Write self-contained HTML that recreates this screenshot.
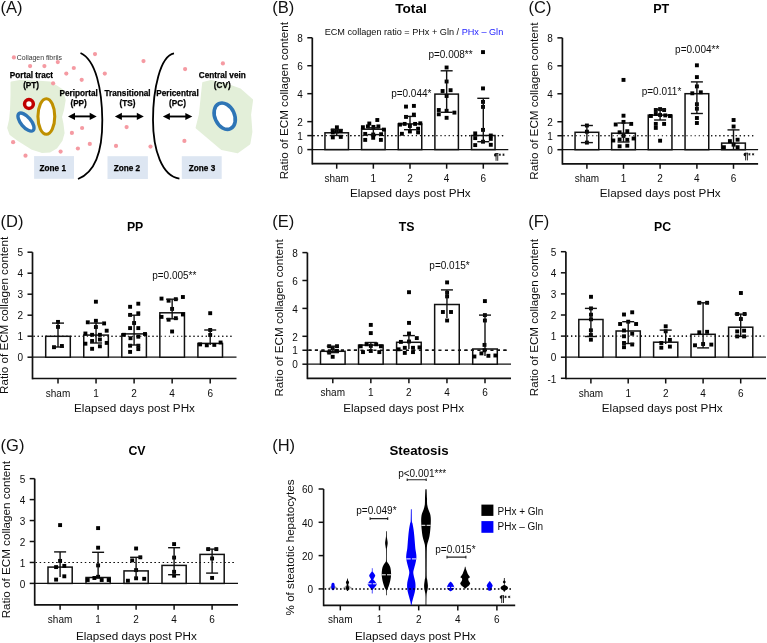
<!DOCTYPE html><html><head><meta charset="utf-8"><style>html,body{margin:0;padding:0;background:#fff;overflow:hidden;width:767px;height:643px;}svg{display:block;will-change:transform;}text{font-family:"Liberation Sans", sans-serif;}</style></head><body>
<svg width="767" height="643" viewBox="0 0 767 643">
<rect width="767" height="643" fill="#fff"/>
<line x1="312.3" y1="37.76" x2="312.3" y2="164.55" stroke="#111" stroke-width="1.7"/>
<line x1="312.3" y1="163.7" x2="508.3" y2="163.7" stroke="#111" stroke-width="1.7"/>
<line x1="307.3" y1="37.76" x2="312.3" y2="37.76" stroke="#111" stroke-width="1.5"/>
<text x="302.8" y="41.96" font-size="10" text-anchor="end" font-weight="normal" fill="#0d0d0d" >8</text>
<line x1="307.3" y1="65.72" x2="312.3" y2="65.72" stroke="#111" stroke-width="1.5"/>
<text x="302.8" y="69.92" font-size="10" text-anchor="end" font-weight="normal" fill="#0d0d0d" >6</text>
<line x1="307.3" y1="93.68" x2="312.3" y2="93.68" stroke="#111" stroke-width="1.5"/>
<text x="302.8" y="97.88" font-size="10" text-anchor="end" font-weight="normal" fill="#0d0d0d" >4</text>
<line x1="307.3" y1="121.64" x2="312.3" y2="121.64" stroke="#111" stroke-width="1.5"/>
<text x="302.8" y="125.84" font-size="10" text-anchor="end" font-weight="normal" fill="#0d0d0d" >2</text>
<line x1="307.3" y1="135.62" x2="312.3" y2="135.62" stroke="#111" stroke-width="1.5"/>
<text x="302.8" y="139.82" font-size="10" text-anchor="end" font-weight="normal" fill="#0d0d0d" >1</text>
<line x1="307.3" y1="149.6" x2="312.3" y2="149.6" stroke="#111" stroke-width="1.5"/>
<text x="302.8" y="153.8" font-size="10" text-anchor="end" font-weight="normal" fill="#0d0d0d" >0</text>
<line x1="312.3" y1="149.6" x2="508.3" y2="149.6" stroke="#111" stroke-width="1.3"/>
<line x1="313.3" y1="135.62" x2="505" y2="135.62" stroke="#111" stroke-width="1.1" stroke-dasharray="1.25 2.85"/>
<line x1="336.7" y1="163.7" x2="336.7" y2="168.7" stroke="#111" stroke-width="1.5"/>
<text x="336.7" y="181.7" font-size="10" text-anchor="middle" font-weight="normal" fill="#0d0d0d" >sham</text>
<rect x="324.95" y="132.8" width="23.5" height="16.8" fill="#fff" stroke="#111" stroke-width="1.5"/>
<line x1="373.35" y1="163.7" x2="373.35" y2="168.7" stroke="#111" stroke-width="1.5"/>
<text x="373.35" y="181.7" font-size="10" text-anchor="middle" font-weight="normal" fill="#0d0d0d" >1</text>
<rect x="361.6" y="129.2" width="23.5" height="20.4" fill="#fff" stroke="#111" stroke-width="1.5"/>
<line x1="410" y1="163.7" x2="410" y2="168.7" stroke="#111" stroke-width="1.5"/>
<text x="410" y="181.7" font-size="10" text-anchor="middle" font-weight="normal" fill="#0d0d0d" >2</text>
<rect x="398.25" y="123.9" width="23.5" height="25.7" fill="#fff" stroke="#111" stroke-width="1.5"/>
<line x1="446.65" y1="163.7" x2="446.65" y2="168.7" stroke="#111" stroke-width="1.5"/>
<text x="446.65" y="181.7" font-size="10" text-anchor="middle" font-weight="normal" fill="#0d0d0d" >4</text>
<rect x="434.9" y="94.1" width="23.5" height="55.5" fill="#fff" stroke="#111" stroke-width="1.5"/>
<line x1="483.3" y1="163.7" x2="483.3" y2="168.7" stroke="#111" stroke-width="1.5"/>
<text x="483.3" y="181.7" font-size="10" text-anchor="middle" font-weight="normal" fill="#0d0d0d" >6</text>
<rect x="471.55" y="135.5" width="23.5" height="14.1" fill="#fff" stroke="#111" stroke-width="1.5"/>
<line x1="313.3" y1="135.62" x2="505" y2="135.62" stroke="#111" stroke-width="1.1" stroke-dasharray="1.25 2.85"/>
<rect x="334.95" y="125.35" width="3.9" height="3.9" fill="#000"/>
<rect x="330.85" y="128.55" width="3.9" height="3.9" fill="#000"/>
<rect x="338.85" y="129.05" width="3.9" height="3.9" fill="#000"/>
<rect x="330.85" y="130.45" width="3.9" height="3.9" fill="#000"/>
<rect x="330.85" y="135.45" width="3.9" height="3.9" fill="#000"/>
<rect x="338.85" y="134.95" width="3.9" height="3.9" fill="#000"/>
<rect x="334.95" y="129.45" width="3.9" height="3.9" fill="#000"/>
<line x1="336.7" y1="129.5" x2="336.7" y2="135.5" stroke="#111" stroke-width="1.4"/>
<line x1="330.7" y1="129.5" x2="342.7" y2="129.5" stroke="#111" stroke-width="1.4"/>
<line x1="330.7" y1="135.5" x2="342.7" y2="135.5" stroke="#111" stroke-width="1.4"/>
<rect x="375.35" y="118.05" width="3.9" height="3.9" fill="#000"/>
<rect x="367.35" y="121.55" width="3.9" height="3.9" fill="#000"/>
<rect x="360.95" y="125.25" width="3.9" height="3.9" fill="#000"/>
<rect x="365.95" y="124.45" width="3.9" height="3.9" fill="#000"/>
<rect x="371.45" y="124.95" width="3.9" height="3.9" fill="#000"/>
<rect x="376.45" y="124.45" width="3.9" height="3.9" fill="#000"/>
<rect x="381.95" y="127.65" width="3.9" height="3.9" fill="#000"/>
<rect x="363.25" y="131.95" width="3.9" height="3.9" fill="#000"/>
<rect x="371.25" y="132.55" width="3.9" height="3.9" fill="#000"/>
<rect x="379.15" y="132.25" width="3.9" height="3.9" fill="#000"/>
<rect x="371.25" y="135.85" width="3.9" height="3.9" fill="#000"/>
<rect x="363.25" y="137.95" width="3.9" height="3.9" fill="#000"/>
<rect x="378.95" y="137.95" width="3.9" height="3.9" fill="#000"/>
<line x1="373.35" y1="127.8" x2="373.35" y2="134.6" stroke="#111" stroke-width="1.4"/>
<line x1="367.35" y1="127.8" x2="379.35" y2="127.8" stroke="#111" stroke-width="1.4"/>
<line x1="367.35" y1="134.6" x2="379.35" y2="134.6" stroke="#111" stroke-width="1.4"/>
<rect x="404.05" y="104.65" width="3.9" height="3.9" fill="#000"/>
<rect x="411.95" y="103.95" width="3.9" height="3.9" fill="#000"/>
<rect x="404.05" y="114.95" width="3.9" height="3.9" fill="#000"/>
<rect x="411.95" y="112.65" width="3.9" height="3.9" fill="#000"/>
<rect x="398.05" y="122.65" width="3.9" height="3.9" fill="#000"/>
<rect x="402.65" y="121.95" width="3.9" height="3.9" fill="#000"/>
<rect x="407.95" y="124.05" width="3.9" height="3.9" fill="#000"/>
<rect x="413.15" y="121.95" width="3.9" height="3.9" fill="#000"/>
<rect x="418.35" y="121.35" width="3.9" height="3.9" fill="#000"/>
<rect x="407.95" y="129.55" width="3.9" height="3.9" fill="#000"/>
<rect x="416.15" y="126.75" width="3.9" height="3.9" fill="#000"/>
<rect x="416.15" y="130.45" width="3.9" height="3.9" fill="#000"/>
<rect x="399.95" y="131.85" width="3.9" height="3.9" fill="#000"/>
<line x1="410" y1="116.4" x2="410" y2="129.7" stroke="#111" stroke-width="1.4"/>
<line x1="404" y1="116.4" x2="416" y2="116.4" stroke="#111" stroke-width="1.4"/>
<line x1="404" y1="129.7" x2="416" y2="129.7" stroke="#111" stroke-width="1.4"/>
<rect x="444.65" y="65.55" width="3.9" height="3.9" fill="#000"/>
<rect x="444.65" y="79.55" width="3.9" height="3.9" fill="#000"/>
<rect x="440.65" y="89.05" width="3.9" height="3.9" fill="#000"/>
<rect x="448.65" y="88.25" width="3.9" height="3.9" fill="#000"/>
<rect x="444.65" y="94.05" width="3.9" height="3.9" fill="#000"/>
<rect x="436.85" y="108.05" width="3.9" height="3.9" fill="#000"/>
<rect x="436.85" y="112.35" width="3.9" height="3.9" fill="#000"/>
<rect x="444.65" y="108.85" width="3.9" height="3.9" fill="#000"/>
<rect x="452.45" y="110.65" width="3.9" height="3.9" fill="#000"/>
<rect x="444.65" y="115.85" width="3.9" height="3.9" fill="#000"/>
<line x1="446.65" y1="70.8" x2="446.65" y2="112.3" stroke="#111" stroke-width="1.4"/>
<line x1="440.65" y1="70.8" x2="452.65" y2="70.8" stroke="#111" stroke-width="1.4"/>
<line x1="440.65" y1="112.3" x2="452.65" y2="112.3" stroke="#111" stroke-width="1.4"/>
<rect x="481.05" y="50.15" width="3.9" height="3.9" fill="#000"/>
<rect x="481.05" y="86.45" width="3.9" height="3.9" fill="#000"/>
<rect x="481.05" y="99.95" width="3.9" height="3.9" fill="#000"/>
<rect x="481.05" y="104.95" width="3.9" height="3.9" fill="#000"/>
<rect x="481.05" y="127.95" width="3.9" height="3.9" fill="#000"/>
<rect x="473.25" y="131.45" width="3.9" height="3.9" fill="#000"/>
<rect x="473.25" y="136.15" width="3.9" height="3.9" fill="#000"/>
<rect x="481.05" y="139.75" width="3.9" height="3.9" fill="#000"/>
<rect x="488.85" y="133.55" width="3.9" height="3.9" fill="#000"/>
<rect x="488.85" y="136.95" width="3.9" height="3.9" fill="#000"/>
<rect x="473.25" y="143.15" width="3.9" height="3.9" fill="#000"/>
<rect x="488.85" y="142.85" width="3.9" height="3.9" fill="#000"/>
<line x1="483.3" y1="98.3" x2="483.3" y2="141.7" stroke="#111" stroke-width="1.4"/>
<line x1="477.3" y1="98.3" x2="489.3" y2="98.3" stroke="#111" stroke-width="1.4"/>
<line x1="477.3" y1="141.7" x2="489.3" y2="141.7" stroke="#111" stroke-width="1.4"/>
<text transform="translate(288,100.73) rotate(-90)" font-size="11.65" text-anchor="middle" fill="#0d0d0d">Ratio of ECM collagen content</text>
<text x="410.3" y="196.7" font-size="11.7" text-anchor="middle" font-weight="normal" fill="#0d0d0d" >Elapsed days post PHx</text>
<text x="411" y="12.9" font-size="13.6" text-anchor="middle" font-weight="bold" fill="#000" >Total</text>
<line x1="562.4" y1="37.86" x2="562.4" y2="164.65" stroke="#111" stroke-width="1.7"/>
<line x1="562.4" y1="163.8" x2="758.1" y2="163.8" stroke="#111" stroke-width="1.7"/>
<line x1="557.4" y1="37.86" x2="562.4" y2="37.86" stroke="#111" stroke-width="1.5"/>
<text x="552.9" y="42.06" font-size="10" text-anchor="end" font-weight="normal" fill="#0d0d0d" >8</text>
<line x1="557.4" y1="65.82" x2="562.4" y2="65.82" stroke="#111" stroke-width="1.5"/>
<text x="552.9" y="70.02" font-size="10" text-anchor="end" font-weight="normal" fill="#0d0d0d" >6</text>
<line x1="557.4" y1="93.78" x2="562.4" y2="93.78" stroke="#111" stroke-width="1.5"/>
<text x="552.9" y="97.98" font-size="10" text-anchor="end" font-weight="normal" fill="#0d0d0d" >4</text>
<line x1="557.4" y1="121.74" x2="562.4" y2="121.74" stroke="#111" stroke-width="1.5"/>
<text x="552.9" y="125.94" font-size="10" text-anchor="end" font-weight="normal" fill="#0d0d0d" >2</text>
<line x1="557.4" y1="135.72" x2="562.4" y2="135.72" stroke="#111" stroke-width="1.5"/>
<text x="552.9" y="139.92" font-size="10" text-anchor="end" font-weight="normal" fill="#0d0d0d" >1</text>
<line x1="557.4" y1="149.7" x2="562.4" y2="149.7" stroke="#111" stroke-width="1.5"/>
<text x="552.9" y="153.9" font-size="10" text-anchor="end" font-weight="normal" fill="#0d0d0d" >0</text>
<line x1="562.4" y1="149.7" x2="758.1" y2="149.7" stroke="#111" stroke-width="1.3"/>
<line x1="563.4" y1="135.72" x2="755.5" y2="135.72" stroke="#111" stroke-width="1.1" stroke-dasharray="1.25 2.85"/>
<line x1="586.9" y1="163.8" x2="586.9" y2="168.8" stroke="#111" stroke-width="1.5"/>
<text x="586.9" y="181.8" font-size="10" text-anchor="middle" font-weight="normal" fill="#0d0d0d" >sham</text>
<rect x="575.05" y="132.3" width="23.7" height="17.4" fill="#fff" stroke="#111" stroke-width="1.5"/>
<line x1="623.5" y1="163.8" x2="623.5" y2="168.8" stroke="#111" stroke-width="1.5"/>
<text x="623.5" y="181.8" font-size="10" text-anchor="middle" font-weight="normal" fill="#0d0d0d" >1</text>
<rect x="611.65" y="133.2" width="23.7" height="16.5" fill="#fff" stroke="#111" stroke-width="1.5"/>
<line x1="660.1" y1="163.8" x2="660.1" y2="168.8" stroke="#111" stroke-width="1.5"/>
<text x="660.1" y="181.8" font-size="10" text-anchor="middle" font-weight="normal" fill="#0d0d0d" >2</text>
<rect x="648.25" y="115.1" width="23.7" height="34.6" fill="#fff" stroke="#111" stroke-width="1.5"/>
<line x1="696.9" y1="163.8" x2="696.9" y2="168.8" stroke="#111" stroke-width="1.5"/>
<text x="696.9" y="181.8" font-size="10" text-anchor="middle" font-weight="normal" fill="#0d0d0d" >4</text>
<rect x="685.05" y="93.7" width="23.7" height="56" fill="#fff" stroke="#111" stroke-width="1.5"/>
<line x1="733.5" y1="163.8" x2="733.5" y2="168.8" stroke="#111" stroke-width="1.5"/>
<text x="733.5" y="181.8" font-size="10" text-anchor="middle" font-weight="normal" fill="#0d0d0d" >6</text>
<rect x="721.65" y="143.1" width="23.7" height="6.6" fill="#fff" stroke="#111" stroke-width="1.5"/>
<line x1="563.4" y1="135.72" x2="755.5" y2="135.72" stroke="#111" stroke-width="1.1" stroke-dasharray="1.25 2.85"/>
<rect x="584.95" y="123.55" width="3.9" height="3.9" fill="#000"/>
<rect x="584.95" y="129.75" width="3.9" height="3.9" fill="#000"/>
<rect x="584.95" y="140.65" width="3.9" height="3.9" fill="#000"/>
<line x1="586.9" y1="125.5" x2="586.9" y2="142.6" stroke="#111" stroke-width="1.4"/>
<line x1="580.9" y1="125.5" x2="592.9" y2="125.5" stroke="#111" stroke-width="1.4"/>
<line x1="580.9" y1="142.6" x2="592.9" y2="142.6" stroke="#111" stroke-width="1.4"/>
<rect x="621.55" y="77.95" width="3.9" height="3.9" fill="#000"/>
<rect x="621.55" y="113.75" width="3.9" height="3.9" fill="#000"/>
<rect x="613.75" y="122.55" width="3.9" height="3.9" fill="#000"/>
<rect x="621.55" y="119.95" width="3.9" height="3.9" fill="#000"/>
<rect x="629.25" y="121.95" width="3.9" height="3.9" fill="#000"/>
<rect x="617.65" y="130.35" width="3.9" height="3.9" fill="#000"/>
<rect x="625.35" y="129.25" width="3.9" height="3.9" fill="#000"/>
<rect x="611.35" y="138.55" width="3.9" height="3.9" fill="#000"/>
<rect x="617.65" y="137.55" width="3.9" height="3.9" fill="#000"/>
<rect x="625.35" y="137.85" width="3.9" height="3.9" fill="#000"/>
<rect x="631.65" y="136.55" width="3.9" height="3.9" fill="#000"/>
<rect x="617.65" y="144.35" width="3.9" height="3.9" fill="#000"/>
<rect x="625.35" y="143.75" width="3.9" height="3.9" fill="#000"/>
<rect x="621.55" y="133.95" width="3.9" height="3.9" fill="#000"/>
<line x1="623.5" y1="123" x2="623.5" y2="142" stroke="#111" stroke-width="1.4"/>
<line x1="617.5" y1="123" x2="629.5" y2="123" stroke="#111" stroke-width="1.4"/>
<line x1="617.5" y1="142" x2="629.5" y2="142" stroke="#111" stroke-width="1.4"/>
<rect x="658.15" y="107.15" width="3.9" height="3.9" fill="#000"/>
<rect x="653.85" y="108.05" width="3.9" height="3.9" fill="#000"/>
<rect x="662.15" y="108.05" width="3.9" height="3.9" fill="#000"/>
<rect x="648.95" y="114.05" width="3.9" height="3.9" fill="#000"/>
<rect x="653.85" y="112.05" width="3.9" height="3.9" fill="#000"/>
<rect x="658.15" y="113.05" width="3.9" height="3.9" fill="#000"/>
<rect x="663.35" y="113.45" width="3.9" height="3.9" fill="#000"/>
<rect x="668.05" y="114.05" width="3.9" height="3.9" fill="#000"/>
<rect x="653.85" y="121.95" width="3.9" height="3.9" fill="#000"/>
<rect x="662.15" y="121.95" width="3.9" height="3.9" fill="#000"/>
<rect x="653.85" y="125.95" width="3.9" height="3.9" fill="#000"/>
<rect x="658.15" y="138.75" width="3.9" height="3.9" fill="#000"/>
<line x1="660.1" y1="109.5" x2="660.1" y2="120" stroke="#111" stroke-width="1.4"/>
<line x1="654.1" y1="109.5" x2="666.1" y2="109.5" stroke="#111" stroke-width="1.4"/>
<line x1="654.1" y1="120" x2="666.1" y2="120" stroke="#111" stroke-width="1.4"/>
<rect x="694.95" y="63.35" width="3.9" height="3.9" fill="#000"/>
<rect x="694.95" y="75.15" width="3.9" height="3.9" fill="#000"/>
<rect x="694.95" y="84.45" width="3.9" height="3.9" fill="#000"/>
<rect x="690.35" y="91.35" width="3.9" height="3.9" fill="#000"/>
<rect x="698.85" y="90.35" width="3.9" height="3.9" fill="#000"/>
<rect x="694.95" y="102.25" width="3.9" height="3.9" fill="#000"/>
<rect x="694.95" y="106.75" width="3.9" height="3.9" fill="#000"/>
<rect x="694.95" y="116.05" width="3.9" height="3.9" fill="#000"/>
<rect x="694.95" y="121.05" width="3.9" height="3.9" fill="#000"/>
<line x1="696.9" y1="81.9" x2="696.9" y2="113.5" stroke="#111" stroke-width="1.4"/>
<line x1="690.9" y1="81.9" x2="702.9" y2="81.9" stroke="#111" stroke-width="1.4"/>
<line x1="690.9" y1="113.5" x2="702.9" y2="113.5" stroke="#111" stroke-width="1.4"/>
<rect x="731.65" y="118.05" width="3.9" height="3.9" fill="#000"/>
<rect x="731.65" y="124.55" width="3.9" height="3.9" fill="#000"/>
<rect x="735.65" y="137.75" width="3.9" height="3.9" fill="#000"/>
<rect x="727.95" y="139.15" width="3.9" height="3.9" fill="#000"/>
<rect x="731.65" y="142.75" width="3.9" height="3.9" fill="#000"/>
<rect x="721.95" y="145.25" width="3.9" height="3.9" fill="#000"/>
<rect x="735.65" y="145.25" width="3.9" height="3.9" fill="#000"/>
<line x1="733.5" y1="129.9" x2="733.5" y2="149.7" stroke="#111" stroke-width="1.4"/>
<line x1="727.5" y1="129.9" x2="739.5" y2="129.9" stroke="#111" stroke-width="1.4"/>
<text transform="translate(537.6,101.13) rotate(-90)" font-size="11.65" text-anchor="middle" fill="#0d0d0d">Ratio of ECM collagen content</text>
<text x="660.25" y="196.8" font-size="11.7" text-anchor="middle" font-weight="normal" fill="#0d0d0d" >Elapsed days post PHx</text>
<text x="661.2" y="13" font-size="12.6" text-anchor="middle" font-weight="bold" fill="#000" >PT</text>
<line x1="32.5" y1="252.2" x2="32.5" y2="379.35" stroke="#111" stroke-width="1.7"/>
<line x1="32.5" y1="378.5" x2="236.5" y2="378.5" stroke="#111" stroke-width="1.7"/>
<line x1="27.5" y1="252.2" x2="32.5" y2="252.2" stroke="#111" stroke-width="1.5"/>
<text x="23" y="256.4" font-size="10" text-anchor="end" font-weight="normal" fill="#0d0d0d" >5</text>
<line x1="27.5" y1="273.2" x2="32.5" y2="273.2" stroke="#111" stroke-width="1.5"/>
<text x="23" y="277.4" font-size="10" text-anchor="end" font-weight="normal" fill="#0d0d0d" >4</text>
<line x1="27.5" y1="294.2" x2="32.5" y2="294.2" stroke="#111" stroke-width="1.5"/>
<text x="23" y="298.4" font-size="10" text-anchor="end" font-weight="normal" fill="#0d0d0d" >3</text>
<line x1="27.5" y1="315.2" x2="32.5" y2="315.2" stroke="#111" stroke-width="1.5"/>
<text x="23" y="319.4" font-size="10" text-anchor="end" font-weight="normal" fill="#0d0d0d" >2</text>
<line x1="27.5" y1="336.2" x2="32.5" y2="336.2" stroke="#111" stroke-width="1.5"/>
<text x="23" y="340.4" font-size="10" text-anchor="end" font-weight="normal" fill="#0d0d0d" >1</text>
<line x1="27.5" y1="357.2" x2="32.5" y2="357.2" stroke="#111" stroke-width="1.5"/>
<text x="23" y="361.4" font-size="10" text-anchor="end" font-weight="normal" fill="#0d0d0d" >0</text>
<line x1="32.5" y1="357.2" x2="236.5" y2="357.2" stroke="#111" stroke-width="1.3"/>
<line x1="33.5" y1="336.2" x2="233.3" y2="336.2" stroke="#111" stroke-width="1.1" stroke-dasharray="1.25 2.85"/>
<line x1="58" y1="378.5" x2="58" y2="383.5" stroke="#111" stroke-width="1.5"/>
<text x="58" y="396.5" font-size="10" text-anchor="middle" font-weight="normal" fill="#0d0d0d" >sham</text>
<rect x="45.7" y="336.3" width="24.6" height="20.9" fill="#fff" stroke="#111" stroke-width="1.5"/>
<line x1="96.05" y1="378.5" x2="96.05" y2="383.5" stroke="#111" stroke-width="1.5"/>
<text x="96.05" y="396.5" font-size="10" text-anchor="middle" font-weight="normal" fill="#0d0d0d" >1</text>
<rect x="83.75" y="335.1" width="24.6" height="22.1" fill="#fff" stroke="#111" stroke-width="1.5"/>
<line x1="134.1" y1="378.5" x2="134.1" y2="383.5" stroke="#111" stroke-width="1.5"/>
<text x="134.1" y="396.5" font-size="10" text-anchor="middle" font-weight="normal" fill="#0d0d0d" >2</text>
<rect x="121.8" y="333.9" width="24.6" height="23.3" fill="#fff" stroke="#111" stroke-width="1.5"/>
<line x1="172.15" y1="378.5" x2="172.15" y2="383.5" stroke="#111" stroke-width="1.5"/>
<text x="172.15" y="396.5" font-size="10" text-anchor="middle" font-weight="normal" fill="#0d0d0d" >4</text>
<rect x="159.85" y="312.8" width="24.6" height="44.4" fill="#fff" stroke="#111" stroke-width="1.5"/>
<line x1="210.2" y1="378.5" x2="210.2" y2="383.5" stroke="#111" stroke-width="1.5"/>
<text x="210.2" y="396.5" font-size="10" text-anchor="middle" font-weight="normal" fill="#0d0d0d" >6</text>
<rect x="197.9" y="343.4" width="24.6" height="13.8" fill="#fff" stroke="#111" stroke-width="1.5"/>
<line x1="33.5" y1="336.2" x2="233.3" y2="336.2" stroke="#111" stroke-width="1.1" stroke-dasharray="1.25 2.85"/>
<rect x="56.05" y="319.95" width="3.9" height="3.9" fill="#000"/>
<rect x="56.05" y="324.95" width="3.9" height="3.9" fill="#000"/>
<rect x="52.05" y="345.25" width="3.9" height="3.9" fill="#000"/>
<rect x="59.95" y="344.05" width="3.9" height="3.9" fill="#000"/>
<line x1="58" y1="323.1" x2="58" y2="347" stroke="#111" stroke-width="1.4"/>
<line x1="52" y1="323.1" x2="64" y2="323.1" stroke="#111" stroke-width="1.4"/>
<line x1="52" y1="347" x2="64" y2="347" stroke="#111" stroke-width="1.4"/>
<rect x="93.95" y="299.75" width="3.9" height="3.9" fill="#000"/>
<rect x="85.85" y="320.35" width="3.9" height="3.9" fill="#000"/>
<rect x="93.95" y="318.85" width="3.9" height="3.9" fill="#000"/>
<rect x="102.15" y="321.45" width="3.9" height="3.9" fill="#000"/>
<rect x="93.95" y="325.05" width="3.9" height="3.9" fill="#000"/>
<rect x="83.45" y="331.55" width="3.9" height="3.9" fill="#000"/>
<rect x="90.15" y="332.85" width="3.9" height="3.9" fill="#000"/>
<rect x="97.95" y="332.85" width="3.9" height="3.9" fill="#000"/>
<rect x="104.75" y="328.75" width="3.9" height="3.9" fill="#000"/>
<rect x="83.45" y="341.75" width="3.9" height="3.9" fill="#000"/>
<rect x="90.15" y="339.05" width="3.9" height="3.9" fill="#000"/>
<rect x="97.95" y="337.55" width="3.9" height="3.9" fill="#000"/>
<rect x="104.75" y="340.95" width="3.9" height="3.9" fill="#000"/>
<rect x="90.15" y="346.85" width="3.9" height="3.9" fill="#000"/>
<rect x="97.95" y="344.35" width="3.9" height="3.9" fill="#000"/>
<line x1="96.05" y1="323.1" x2="96.05" y2="343" stroke="#111" stroke-width="1.4"/>
<line x1="90.05" y1="323.1" x2="102.05" y2="323.1" stroke="#111" stroke-width="1.4"/>
<line x1="90.05" y1="343" x2="102.05" y2="343" stroke="#111" stroke-width="1.4"/>
<rect x="128.15" y="304.85" width="3.9" height="3.9" fill="#000"/>
<rect x="136.35" y="301.75" width="3.9" height="3.9" fill="#000"/>
<rect x="128.15" y="312.95" width="3.9" height="3.9" fill="#000"/>
<rect x="136.35" y="311.35" width="3.9" height="3.9" fill="#000"/>
<rect x="132.15" y="321.05" width="3.9" height="3.9" fill="#000"/>
<rect x="128.15" y="326.15" width="3.9" height="3.9" fill="#000"/>
<rect x="136.35" y="326.15" width="3.9" height="3.9" fill="#000"/>
<rect x="121.95" y="332.85" width="3.9" height="3.9" fill="#000"/>
<rect x="143.05" y="332.05" width="3.9" height="3.9" fill="#000"/>
<rect x="128.55" y="336.25" width="3.9" height="3.9" fill="#000"/>
<rect x="136.35" y="334.75" width="3.9" height="3.9" fill="#000"/>
<rect x="128.15" y="343.75" width="3.9" height="3.9" fill="#000"/>
<rect x="136.35" y="343.75" width="3.9" height="3.9" fill="#000"/>
<rect x="128.15" y="349.95" width="3.9" height="3.9" fill="#000"/>
<rect x="136.35" y="347.15" width="3.9" height="3.9" fill="#000"/>
<line x1="134.1" y1="315.2" x2="134.1" y2="345" stroke="#111" stroke-width="1.4"/>
<line x1="128.1" y1="315.2" x2="140.1" y2="315.2" stroke="#111" stroke-width="1.4"/>
<line x1="128.1" y1="345" x2="140.1" y2="345" stroke="#111" stroke-width="1.4"/>
<rect x="159.55" y="296.65" width="3.9" height="3.9" fill="#000"/>
<rect x="166.65" y="298.75" width="3.9" height="3.9" fill="#000"/>
<rect x="173.85" y="297.25" width="3.9" height="3.9" fill="#000"/>
<rect x="180.95" y="295.05" width="3.9" height="3.9" fill="#000"/>
<rect x="170.15" y="306.95" width="3.9" height="3.9" fill="#000"/>
<rect x="159.55" y="314.95" width="3.9" height="3.9" fill="#000"/>
<rect x="166.65" y="317.75" width="3.9" height="3.9" fill="#000"/>
<rect x="173.85" y="316.25" width="3.9" height="3.9" fill="#000"/>
<rect x="180.95" y="312.55" width="3.9" height="3.9" fill="#000"/>
<rect x="170.15" y="329.55" width="3.9" height="3.9" fill="#000"/>
<line x1="172.15" y1="299.2" x2="172.15" y2="318.8" stroke="#111" stroke-width="1.4"/>
<line x1="166.15" y1="299.2" x2="178.15" y2="299.2" stroke="#111" stroke-width="1.4"/>
<line x1="166.15" y1="318.8" x2="178.15" y2="318.8" stroke="#111" stroke-width="1.4"/>
<rect x="208.25" y="311.25" width="3.9" height="3.9" fill="#000"/>
<rect x="208.25" y="328.05" width="3.9" height="3.9" fill="#000"/>
<rect x="208.25" y="333.05" width="3.9" height="3.9" fill="#000"/>
<rect x="198.15" y="342.45" width="3.9" height="3.9" fill="#000"/>
<rect x="204.85" y="343.35" width="3.9" height="3.9" fill="#000"/>
<rect x="212.35" y="342.95" width="3.9" height="3.9" fill="#000"/>
<rect x="218.65" y="340.55" width="3.9" height="3.9" fill="#000"/>
<line x1="210.2" y1="330" x2="210.2" y2="345" stroke="#111" stroke-width="1.4"/>
<line x1="204.2" y1="330" x2="216.2" y2="330" stroke="#111" stroke-width="1.4"/>
<text transform="translate(8.2,315.35) rotate(-90)" font-size="11.65" text-anchor="middle" fill="#0d0d0d">Ratio of ECM collagen content</text>
<text x="134.5" y="411.5" font-size="11.7" text-anchor="middle" font-weight="normal" fill="#0d0d0d" >Elapsed days post PHx</text>
<text x="135.1" y="230.9" font-size="12.3" text-anchor="middle" font-weight="bold" fill="#000" >PP</text>
<line x1="307.4" y1="252.6" x2="307.4" y2="379.15" stroke="#111" stroke-width="1.7"/>
<line x1="307.4" y1="378.3" x2="511" y2="378.3" stroke="#111" stroke-width="1.7"/>
<line x1="302.4" y1="252.6" x2="307.4" y2="252.6" stroke="#111" stroke-width="1.5"/>
<text x="297.9" y="256.8" font-size="10" text-anchor="end" font-weight="normal" fill="#0d0d0d" >8</text>
<line x1="302.4" y1="280.5" x2="307.4" y2="280.5" stroke="#111" stroke-width="1.5"/>
<text x="297.9" y="284.7" font-size="10" text-anchor="end" font-weight="normal" fill="#0d0d0d" >6</text>
<line x1="302.4" y1="308.4" x2="307.4" y2="308.4" stroke="#111" stroke-width="1.5"/>
<text x="297.9" y="312.6" font-size="10" text-anchor="end" font-weight="normal" fill="#0d0d0d" >4</text>
<line x1="302.4" y1="336.3" x2="307.4" y2="336.3" stroke="#111" stroke-width="1.5"/>
<text x="297.9" y="340.5" font-size="10" text-anchor="end" font-weight="normal" fill="#0d0d0d" >2</text>
<line x1="302.4" y1="350.25" x2="307.4" y2="350.25" stroke="#111" stroke-width="1.5"/>
<text x="297.9" y="354.45" font-size="10" text-anchor="end" font-weight="normal" fill="#0d0d0d" >1</text>
<line x1="302.4" y1="364.2" x2="307.4" y2="364.2" stroke="#111" stroke-width="1.5"/>
<text x="297.9" y="368.4" font-size="10" text-anchor="end" font-weight="normal" fill="#0d0d0d" >0</text>
<line x1="307.4" y1="364.2" x2="511" y2="364.2" stroke="#111" stroke-width="1.3"/>
<line x1="308.4" y1="350.25" x2="507" y2="350.25" stroke="#111" stroke-width="1.4" stroke-dasharray="3.1 3.4"/>
<line x1="332.8" y1="378.3" x2="332.8" y2="383.3" stroke="#111" stroke-width="1.5"/>
<text x="332.8" y="396.3" font-size="10" text-anchor="middle" font-weight="normal" fill="#0d0d0d" >sham</text>
<rect x="320.5" y="351.3" width="24.6" height="12.9" fill="#fff" stroke="#111" stroke-width="1.5"/>
<line x1="370.85" y1="378.3" x2="370.85" y2="383.3" stroke="#111" stroke-width="1.5"/>
<text x="370.85" y="396.3" font-size="10" text-anchor="middle" font-weight="normal" fill="#0d0d0d" >1</text>
<rect x="358.55" y="345.1" width="24.6" height="19.1" fill="#fff" stroke="#111" stroke-width="1.5"/>
<line x1="408.9" y1="378.3" x2="408.9" y2="383.3" stroke="#111" stroke-width="1.5"/>
<text x="408.9" y="396.3" font-size="10" text-anchor="middle" font-weight="normal" fill="#0d0d0d" >2</text>
<rect x="396.6" y="342.3" width="24.6" height="21.9" fill="#fff" stroke="#111" stroke-width="1.5"/>
<line x1="446.95" y1="378.3" x2="446.95" y2="383.3" stroke="#111" stroke-width="1.5"/>
<text x="446.95" y="396.3" font-size="10" text-anchor="middle" font-weight="normal" fill="#0d0d0d" >4</text>
<rect x="434.65" y="304.5" width="24.6" height="59.7" fill="#fff" stroke="#111" stroke-width="1.5"/>
<line x1="485" y1="378.3" x2="485" y2="383.3" stroke="#111" stroke-width="1.5"/>
<text x="485" y="396.3" font-size="10" text-anchor="middle" font-weight="normal" fill="#0d0d0d" >6</text>
<rect x="472.7" y="349" width="24.6" height="15.2" fill="#fff" stroke="#111" stroke-width="1.5"/>
<line x1="308.4" y1="350.25" x2="507" y2="350.25" stroke="#111" stroke-width="1.4" stroke-dasharray="3.1 3.4"/>
<rect x="327.25" y="344.25" width="3.9" height="3.9" fill="#000"/>
<rect x="335.05" y="344.25" width="3.9" height="3.9" fill="#000"/>
<rect x="327.25" y="350.65" width="3.9" height="3.9" fill="#000"/>
<rect x="335.05" y="349.05" width="3.9" height="3.9" fill="#000"/>
<rect x="330.75" y="354.85" width="3.9" height="3.9" fill="#000"/>
<rect x="330.75" y="346.25" width="3.9" height="3.9" fill="#000"/>
<line x1="332.8" y1="346.2" x2="332.8" y2="352.6" stroke="#111" stroke-width="1.4"/>
<line x1="326.8" y1="346.2" x2="338.8" y2="346.2" stroke="#111" stroke-width="1.4"/>
<line x1="326.8" y1="352.6" x2="338.8" y2="352.6" stroke="#111" stroke-width="1.4"/>
<rect x="368.85" y="322.95" width="3.9" height="3.9" fill="#000"/>
<rect x="368.85" y="331.15" width="3.9" height="3.9" fill="#000"/>
<rect x="358.75" y="344.35" width="3.9" height="3.9" fill="#000"/>
<rect x="364.65" y="342.35" width="3.9" height="3.9" fill="#000"/>
<rect x="368.85" y="343.95" width="3.9" height="3.9" fill="#000"/>
<rect x="374.25" y="342.35" width="3.9" height="3.9" fill="#000"/>
<rect x="378.95" y="344.35" width="3.9" height="3.9" fill="#000"/>
<rect x="361.05" y="350.15" width="3.9" height="3.9" fill="#000"/>
<rect x="368.85" y="349.05" width="3.9" height="3.9" fill="#000"/>
<rect x="377.35" y="350.15" width="3.9" height="3.9" fill="#000"/>
<line x1="370.85" y1="342.5" x2="370.85" y2="349" stroke="#111" stroke-width="1.4"/>
<line x1="364.85" y1="342.5" x2="376.85" y2="342.5" stroke="#111" stroke-width="1.4"/>
<rect x="407.05" y="290.25" width="3.9" height="3.9" fill="#000"/>
<rect x="407.05" y="320.95" width="3.9" height="3.9" fill="#000"/>
<rect x="407.05" y="331.55" width="3.9" height="3.9" fill="#000"/>
<rect x="414.85" y="336.15" width="3.9" height="3.9" fill="#000"/>
<rect x="398.95" y="339.95" width="3.9" height="3.9" fill="#000"/>
<rect x="407.05" y="339.55" width="3.9" height="3.9" fill="#000"/>
<rect x="402.85" y="345.85" width="3.9" height="3.9" fill="#000"/>
<rect x="411.05" y="345.85" width="3.9" height="3.9" fill="#000"/>
<rect x="417.55" y="345.45" width="3.9" height="3.9" fill="#000"/>
<rect x="402.85" y="350.95" width="3.9" height="3.9" fill="#000"/>
<rect x="411.05" y="350.15" width="3.9" height="3.9" fill="#000"/>
<rect x="396.65" y="347.35" width="3.9" height="3.9" fill="#000"/>
<line x1="408.9" y1="335.6" x2="408.9" y2="349" stroke="#111" stroke-width="1.4"/>
<line x1="402.9" y1="335.6" x2="414.9" y2="335.6" stroke="#111" stroke-width="1.4"/>
<rect x="445.15" y="280.45" width="3.9" height="3.9" fill="#000"/>
<rect x="445.15" y="290.65" width="3.9" height="3.9" fill="#000"/>
<rect x="445.15" y="294.45" width="3.9" height="3.9" fill="#000"/>
<rect x="440.95" y="310.05" width="3.9" height="3.9" fill="#000"/>
<rect x="449.05" y="310.05" width="3.9" height="3.9" fill="#000"/>
<rect x="445.15" y="318.55" width="3.9" height="3.9" fill="#000"/>
<line x1="446.95" y1="289.9" x2="446.95" y2="318" stroke="#111" stroke-width="1.4"/>
<line x1="440.95" y1="289.9" x2="452.95" y2="289.9" stroke="#111" stroke-width="1.4"/>
<rect x="482.95" y="299.15" width="3.9" height="3.9" fill="#000"/>
<rect x="482.95" y="313.15" width="3.9" height="3.9" fill="#000"/>
<rect x="482.95" y="318.55" width="3.9" height="3.9" fill="#000"/>
<rect x="482.55" y="342.95" width="3.9" height="3.9" fill="#000"/>
<rect x="482.55" y="348.35" width="3.9" height="3.9" fill="#000"/>
<rect x="479.45" y="351.45" width="3.9" height="3.9" fill="#000"/>
<rect x="486.45" y="353.85" width="3.9" height="3.9" fill="#000"/>
<rect x="472.45" y="354.55" width="3.9" height="3.9" fill="#000"/>
<rect x="493.45" y="353.55" width="3.9" height="3.9" fill="#000"/>
<line x1="485" y1="315.1" x2="485" y2="356" stroke="#111" stroke-width="1.4"/>
<line x1="479" y1="315.1" x2="491" y2="315.1" stroke="#111" stroke-width="1.4"/>
<text transform="translate(282.6,317.95) rotate(-90)" font-size="11.65" text-anchor="middle" fill="#0d0d0d">Ratio of ECM collagen content</text>
<text x="403.6" y="412" font-size="11.7" text-anchor="middle" font-weight="normal" fill="#0d0d0d" >Elapsed days post PHx</text>
<text x="406.5" y="230.9" font-size="12.3" text-anchor="middle" font-weight="bold" fill="#000" >TS</text>
<line x1="565.9" y1="251.7" x2="565.9" y2="379.35" stroke="#111" stroke-width="1.7"/>
<line x1="565.9" y1="378.5" x2="766" y2="378.5" stroke="#111" stroke-width="1.7"/>
<line x1="560.9" y1="251.7" x2="565.9" y2="251.7" stroke="#111" stroke-width="1.5"/>
<text x="556.4" y="255.9" font-size="10" text-anchor="end" font-weight="normal" fill="#0d0d0d" >5</text>
<line x1="560.9" y1="272.8" x2="565.9" y2="272.8" stroke="#111" stroke-width="1.5"/>
<text x="556.4" y="277" font-size="10" text-anchor="end" font-weight="normal" fill="#0d0d0d" >4</text>
<line x1="560.9" y1="293.9" x2="565.9" y2="293.9" stroke="#111" stroke-width="1.5"/>
<text x="556.4" y="298.1" font-size="10" text-anchor="end" font-weight="normal" fill="#0d0d0d" >3</text>
<line x1="560.9" y1="315" x2="565.9" y2="315" stroke="#111" stroke-width="1.5"/>
<text x="556.4" y="319.2" font-size="10" text-anchor="end" font-weight="normal" fill="#0d0d0d" >2</text>
<line x1="560.9" y1="336.1" x2="565.9" y2="336.1" stroke="#111" stroke-width="1.5"/>
<text x="556.4" y="340.3" font-size="10" text-anchor="end" font-weight="normal" fill="#0d0d0d" >1</text>
<line x1="560.9" y1="357.2" x2="565.9" y2="357.2" stroke="#111" stroke-width="1.5"/>
<text x="556.4" y="361.4" font-size="10" text-anchor="end" font-weight="normal" fill="#0d0d0d" >0</text>
<line x1="560.9" y1="378.3" x2="565.9" y2="378.3" stroke="#111" stroke-width="1.5"/>
<text x="556.4" y="382.5" font-size="10" text-anchor="end" font-weight="normal" fill="#0d0d0d" >-1</text>
<line x1="565.9" y1="357.2" x2="766" y2="357.2" stroke="#111" stroke-width="1.3"/>
<line x1="566.9" y1="336.1" x2="764.2" y2="336.1" stroke="#111" stroke-width="1.1" stroke-dasharray="1.25 2.85"/>
<line x1="590.9" y1="378.5" x2="590.9" y2="383.5" stroke="#111" stroke-width="1.5"/>
<text x="590.9" y="396.5" font-size="10" text-anchor="middle" font-weight="normal" fill="#0d0d0d" >sham</text>
<rect x="578.8" y="319.5" width="24.2" height="37.7" fill="#fff" stroke="#111" stroke-width="1.5"/>
<line x1="628.2" y1="378.5" x2="628.2" y2="383.5" stroke="#111" stroke-width="1.5"/>
<text x="628.2" y="396.5" font-size="10" text-anchor="middle" font-weight="normal" fill="#0d0d0d" >1</text>
<rect x="616.1" y="331" width="24.2" height="26.2" fill="#fff" stroke="#111" stroke-width="1.5"/>
<line x1="665.7" y1="378.5" x2="665.7" y2="383.5" stroke="#111" stroke-width="1.5"/>
<text x="665.7" y="396.5" font-size="10" text-anchor="middle" font-weight="normal" fill="#0d0d0d" >2</text>
<rect x="653.6" y="342.2" width="24.2" height="15" fill="#fff" stroke="#111" stroke-width="1.5"/>
<line x1="703.1" y1="378.5" x2="703.1" y2="383.5" stroke="#111" stroke-width="1.5"/>
<text x="703.1" y="396.5" font-size="10" text-anchor="middle" font-weight="normal" fill="#0d0d0d" >4</text>
<rect x="691" y="334.3" width="24.2" height="22.9" fill="#fff" stroke="#111" stroke-width="1.5"/>
<line x1="740.7" y1="378.5" x2="740.7" y2="383.5" stroke="#111" stroke-width="1.5"/>
<text x="740.7" y="396.5" font-size="10" text-anchor="middle" font-weight="normal" fill="#0d0d0d" >6</text>
<rect x="728.6" y="327.2" width="24.2" height="30" fill="#fff" stroke="#111" stroke-width="1.5"/>
<line x1="566.9" y1="336.1" x2="764.2" y2="336.1" stroke="#111" stroke-width="1.1" stroke-dasharray="1.25 2.85"/>
<rect x="589.05" y="294.85" width="3.9" height="3.9" fill="#000"/>
<rect x="589.05" y="306.45" width="3.9" height="3.9" fill="#000"/>
<rect x="589.05" y="312.75" width="3.9" height="3.9" fill="#000"/>
<rect x="589.05" y="317.35" width="3.9" height="3.9" fill="#000"/>
<rect x="588.95" y="328.35" width="3.9" height="3.9" fill="#000"/>
<rect x="588.95" y="333.05" width="3.9" height="3.9" fill="#000"/>
<rect x="588.95" y="337.75" width="3.9" height="3.9" fill="#000"/>
<line x1="590.9" y1="308.4" x2="590.9" y2="336.5" stroke="#111" stroke-width="1.4"/>
<line x1="584.9" y1="308.4" x2="596.9" y2="308.4" stroke="#111" stroke-width="1.4"/>
<line x1="584.9" y1="336.5" x2="596.9" y2="336.5" stroke="#111" stroke-width="1.4"/>
<rect x="622.05" y="312.55" width="3.9" height="3.9" fill="#000"/>
<rect x="630.25" y="310.35" width="3.9" height="3.9" fill="#000"/>
<rect x="618.15" y="322.05" width="3.9" height="3.9" fill="#000"/>
<rect x="626.25" y="319.75" width="3.9" height="3.9" fill="#000"/>
<rect x="634.15" y="322.05" width="3.9" height="3.9" fill="#000"/>
<rect x="622.05" y="328.55" width="3.9" height="3.9" fill="#000"/>
<rect x="622.05" y="334.35" width="3.9" height="3.9" fill="#000"/>
<rect x="630.25" y="331.75" width="3.9" height="3.9" fill="#000"/>
<rect x="622.05" y="341.05" width="3.9" height="3.9" fill="#000"/>
<rect x="630.25" y="342.55" width="3.9" height="3.9" fill="#000"/>
<rect x="622.05" y="345.25" width="3.9" height="3.9" fill="#000"/>
<line x1="628.2" y1="321.7" x2="628.2" y2="343.5" stroke="#111" stroke-width="1.4"/>
<line x1="622.2" y1="321.7" x2="634.2" y2="321.7" stroke="#111" stroke-width="1.4"/>
<line x1="622.2" y1="343.5" x2="634.2" y2="343.5" stroke="#111" stroke-width="1.4"/>
<rect x="663.75" y="324.35" width="3.9" height="3.9" fill="#000"/>
<rect x="663.75" y="329.35" width="3.9" height="3.9" fill="#000"/>
<rect x="667.95" y="337.95" width="3.9" height="3.9" fill="#000"/>
<rect x="659.35" y="341.05" width="3.9" height="3.9" fill="#000"/>
<rect x="667.95" y="344.65" width="3.9" height="3.9" fill="#000"/>
<rect x="659.35" y="345.75" width="3.9" height="3.9" fill="#000"/>
<line x1="665.7" y1="330.1" x2="665.7" y2="344" stroke="#111" stroke-width="1.4"/>
<line x1="659.7" y1="330.1" x2="671.7" y2="330.1" stroke="#111" stroke-width="1.4"/>
<rect x="697.35" y="300.85" width="3.9" height="3.9" fill="#000"/>
<rect x="705.15" y="300.85" width="3.9" height="3.9" fill="#000"/>
<rect x="697.35" y="330.35" width="3.9" height="3.9" fill="#000"/>
<rect x="705.15" y="329.85" width="3.9" height="3.9" fill="#000"/>
<rect x="701.15" y="342.05" width="3.9" height="3.9" fill="#000"/>
<rect x="693.05" y="343.35" width="3.9" height="3.9" fill="#000"/>
<rect x="709.35" y="342.65" width="3.9" height="3.9" fill="#000"/>
<line x1="703.1" y1="302.8" x2="703.1" y2="347.9" stroke="#111" stroke-width="1.4"/>
<line x1="697.1" y1="302.8" x2="709.1" y2="302.8" stroke="#111" stroke-width="1.4"/>
<line x1="697.1" y1="347.9" x2="709.1" y2="347.9" stroke="#111" stroke-width="1.4"/>
<rect x="738.95" y="291.05" width="3.9" height="3.9" fill="#000"/>
<rect x="735.25" y="312.05" width="3.9" height="3.9" fill="#000"/>
<rect x="742.65" y="312.05" width="3.9" height="3.9" fill="#000"/>
<rect x="738.95" y="317.05" width="3.9" height="3.9" fill="#000"/>
<rect x="735.25" y="329.45" width="3.9" height="3.9" fill="#000"/>
<rect x="742.15" y="328.75" width="3.9" height="3.9" fill="#000"/>
<rect x="735.25" y="334.45" width="3.9" height="3.9" fill="#000"/>
<rect x="742.15" y="334.45" width="3.9" height="3.9" fill="#000"/>
<line x1="740.7" y1="314.1" x2="740.7" y2="336.4" stroke="#111" stroke-width="1.4"/>
<line x1="734.7" y1="314.1" x2="746.7" y2="314.1" stroke="#111" stroke-width="1.4"/>
<line x1="734.7" y1="336.4" x2="746.7" y2="336.4" stroke="#111" stroke-width="1.4"/>
<text transform="translate(538.1,317.6) rotate(-90)" font-size="11.65" text-anchor="middle" fill="#0d0d0d">Ratio of ECM collagen content</text>
<text x="662.25" y="411.9" font-size="11.7" text-anchor="middle" font-weight="normal" fill="#0d0d0d" >Elapsed days post PHx</text>
<text x="662.5" y="230.9" font-size="12.3" text-anchor="middle" font-weight="bold" fill="#000" >PC</text>
<line x1="34.7" y1="478.65" x2="34.7" y2="605.65" stroke="#111" stroke-width="1.7"/>
<line x1="34.7" y1="604.8" x2="238" y2="604.8" stroke="#111" stroke-width="1.7"/>
<line x1="29.7" y1="478.65" x2="34.7" y2="478.65" stroke="#111" stroke-width="1.5"/>
<text x="25.2" y="482.85" font-size="10" text-anchor="end" font-weight="normal" fill="#0d0d0d" >5</text>
<line x1="29.7" y1="499.6" x2="34.7" y2="499.6" stroke="#111" stroke-width="1.5"/>
<text x="25.2" y="503.8" font-size="10" text-anchor="end" font-weight="normal" fill="#0d0d0d" >4</text>
<line x1="29.7" y1="520.55" x2="34.7" y2="520.55" stroke="#111" stroke-width="1.5"/>
<text x="25.2" y="524.75" font-size="10" text-anchor="end" font-weight="normal" fill="#0d0d0d" >3</text>
<line x1="29.7" y1="541.5" x2="34.7" y2="541.5" stroke="#111" stroke-width="1.5"/>
<text x="25.2" y="545.7" font-size="10" text-anchor="end" font-weight="normal" fill="#0d0d0d" >2</text>
<line x1="29.7" y1="562.45" x2="34.7" y2="562.45" stroke="#111" stroke-width="1.5"/>
<text x="25.2" y="566.65" font-size="10" text-anchor="end" font-weight="normal" fill="#0d0d0d" >1</text>
<line x1="29.7" y1="583.4" x2="34.7" y2="583.4" stroke="#111" stroke-width="1.5"/>
<text x="25.2" y="587.6" font-size="10" text-anchor="end" font-weight="normal" fill="#0d0d0d" >0</text>
<line x1="34.7" y1="583.4" x2="238" y2="583.4" stroke="#111" stroke-width="1.3"/>
<line x1="35.7" y1="562.45" x2="234.3" y2="562.45" stroke="#111" stroke-width="1.1" stroke-dasharray="1.25 2.85"/>
<line x1="60.1" y1="604.8" x2="60.1" y2="609.8" stroke="#111" stroke-width="1.5"/>
<text x="60.1" y="622.8" font-size="10" text-anchor="middle" font-weight="normal" fill="#0d0d0d" >sham</text>
<rect x="48" y="567.1" width="24.2" height="16.3" fill="#fff" stroke="#111" stroke-width="1.5"/>
<line x1="98.1" y1="604.8" x2="98.1" y2="609.8" stroke="#111" stroke-width="1.5"/>
<text x="98.1" y="622.8" font-size="10" text-anchor="middle" font-weight="normal" fill="#0d0d0d" >1</text>
<rect x="86" y="577.5" width="24.2" height="5.9" fill="#fff" stroke="#111" stroke-width="1.5"/>
<line x1="136.1" y1="604.8" x2="136.1" y2="609.8" stroke="#111" stroke-width="1.5"/>
<text x="136.1" y="622.8" font-size="10" text-anchor="middle" font-weight="normal" fill="#0d0d0d" >2</text>
<rect x="124" y="570.9" width="24.2" height="12.5" fill="#fff" stroke="#111" stroke-width="1.5"/>
<line x1="174.1" y1="604.8" x2="174.1" y2="609.8" stroke="#111" stroke-width="1.5"/>
<text x="174.1" y="622.8" font-size="10" text-anchor="middle" font-weight="normal" fill="#0d0d0d" >4</text>
<rect x="162" y="565.4" width="24.2" height="18" fill="#fff" stroke="#111" stroke-width="1.5"/>
<line x1="212.1" y1="604.8" x2="212.1" y2="609.8" stroke="#111" stroke-width="1.5"/>
<text x="212.1" y="622.8" font-size="10" text-anchor="middle" font-weight="normal" fill="#0d0d0d" >6</text>
<rect x="200" y="554.4" width="24.2" height="29" fill="#fff" stroke="#111" stroke-width="1.5"/>
<line x1="35.7" y1="562.45" x2="234.3" y2="562.45" stroke="#111" stroke-width="1.1" stroke-dasharray="1.25 2.85"/>
<rect x="58.15" y="523.15" width="3.9" height="3.9" fill="#000"/>
<rect x="58.15" y="558.95" width="3.9" height="3.9" fill="#000"/>
<rect x="54.15" y="565.15" width="3.9" height="3.9" fill="#000"/>
<rect x="62.35" y="563.95" width="3.9" height="3.9" fill="#000"/>
<rect x="62.35" y="574.35" width="3.9" height="3.9" fill="#000"/>
<rect x="54.15" y="577.65" width="3.9" height="3.9" fill="#000"/>
<line x1="60.1" y1="551.9" x2="60.1" y2="577" stroke="#111" stroke-width="1.4"/>
<line x1="54.1" y1="551.9" x2="66.1" y2="551.9" stroke="#111" stroke-width="1.4"/>
<rect x="96.15" y="526.15" width="3.9" height="3.9" fill="#000"/>
<rect x="96.15" y="545.75" width="3.9" height="3.9" fill="#000"/>
<rect x="96.15" y="563.45" width="3.9" height="3.9" fill="#000"/>
<rect x="96.15" y="574.85" width="3.9" height="3.9" fill="#000"/>
<rect x="92.45" y="576.05" width="3.9" height="3.9" fill="#000"/>
<rect x="85.75" y="578.05" width="3.9" height="3.9" fill="#000"/>
<rect x="99.75" y="578.05" width="3.9" height="3.9" fill="#000"/>
<rect x="106.75" y="578.05" width="3.9" height="3.9" fill="#000"/>
<line x1="98.1" y1="552.3" x2="98.1" y2="578" stroke="#111" stroke-width="1.4"/>
<line x1="92.1" y1="552.3" x2="104.1" y2="552.3" stroke="#111" stroke-width="1.4"/>
<rect x="134.15" y="546.55" width="3.9" height="3.9" fill="#000"/>
<rect x="130.25" y="558.45" width="3.9" height="3.9" fill="#000"/>
<rect x="138.35" y="555.35" width="3.9" height="3.9" fill="#000"/>
<rect x="134.15" y="568.15" width="3.9" height="3.9" fill="#000"/>
<rect x="134.15" y="576.35" width="3.9" height="3.9" fill="#000"/>
<rect x="125.95" y="578.75" width="3.9" height="3.9" fill="#000"/>
<rect x="142.25" y="576.85" width="3.9" height="3.9" fill="#000"/>
<line x1="136.1" y1="557.3" x2="136.1" y2="578" stroke="#111" stroke-width="1.4"/>
<line x1="130.1" y1="557.3" x2="142.1" y2="557.3" stroke="#111" stroke-width="1.4"/>
<rect x="172.15" y="542.15" width="3.9" height="3.9" fill="#000"/>
<rect x="172.15" y="555.65" width="3.9" height="3.9" fill="#000"/>
<rect x="172.15" y="569.85" width="3.9" height="3.9" fill="#000"/>
<rect x="172.15" y="573.75" width="3.9" height="3.9" fill="#000"/>
<line x1="174.1" y1="547.7" x2="174.1" y2="574.7" stroke="#111" stroke-width="1.4"/>
<line x1="168.1" y1="547.7" x2="180.1" y2="547.7" stroke="#111" stroke-width="1.4"/>
<line x1="168.1" y1="574.7" x2="180.1" y2="574.7" stroke="#111" stroke-width="1.4"/>
<rect x="206.25" y="547.15" width="3.9" height="3.9" fill="#000"/>
<rect x="214.35" y="547.15" width="3.9" height="3.9" fill="#000"/>
<rect x="210.15" y="556.55" width="3.9" height="3.9" fill="#000"/>
<rect x="210.15" y="575.95" width="3.9" height="3.9" fill="#000"/>
<line x1="212.1" y1="549.1" x2="212.1" y2="573.1" stroke="#111" stroke-width="1.4"/>
<line x1="206.1" y1="549.1" x2="218.1" y2="549.1" stroke="#111" stroke-width="1.4"/>
<line x1="206.1" y1="573.1" x2="218.1" y2="573.1" stroke="#111" stroke-width="1.4"/>
<text transform="translate(9.9,539.72) rotate(-90)" font-size="11.65" text-anchor="middle" fill="#0d0d0d">Ratio of ECM collagen content</text>
<text x="136.35" y="639.8" font-size="11.7" text-anchor="middle" font-weight="normal" fill="#0d0d0d" >Elapsed days post PHx</text>
<text x="137" y="454.8" font-size="12.3" text-anchor="middle" font-weight="bold" fill="#000" >CV</text>
<text x="0.6" y="12.5" font-size="16.5" text-anchor="start" font-weight="normal" fill="#111" >(A)</text>
<text x="272.2" y="12.5" font-size="16.5" text-anchor="start" font-weight="normal" fill="#111" >(B)</text>
<text x="528.5" y="12.5" font-size="16.5" text-anchor="start" font-weight="normal" fill="#111" >(C)</text>
<text x="0.6" y="227.3" font-size="16.5" text-anchor="start" font-weight="normal" fill="#111" >(D)</text>
<text x="272.2" y="227.3" font-size="16.5" text-anchor="start" font-weight="normal" fill="#111" >(E)</text>
<text x="528.3" y="227.3" font-size="16.5" text-anchor="start" font-weight="normal" fill="#111" >(F)</text>
<text x="0.6" y="451.4" font-size="16.5" text-anchor="start" font-weight="normal" fill="#111" >(G)</text>
<text x="272.2" y="451.4" font-size="16.5" text-anchor="start" font-weight="normal" fill="#111" >(H)</text>
<text x="411.3" y="97.3" font-size="10" text-anchor="middle" font-weight="normal" fill="#0d0d0d" >p=0.044*</text>
<text x="450.5" y="57.9" font-size="10" text-anchor="middle" font-weight="normal" fill="#0d0d0d" >p=0.008**</text>
<text x="661.5" y="95" font-size="10" text-anchor="middle" font-weight="normal" fill="#0d0d0d" >p=0.011*</text>
<text x="697.2" y="52.5" font-size="10" text-anchor="middle" font-weight="normal" fill="#0d0d0d" >p=0.004**</text>
<text x="174.3" y="278.5" font-size="10" text-anchor="middle" font-weight="normal" fill="#0d0d0d" >p=0.005**</text>
<text x="449.5" y="268.5" font-size="10" text-anchor="middle" font-weight="normal" fill="#0d0d0d" >p=0.015*</text>
<g fill="#111"><ellipse cx="495.35" cy="154.9" rx="1.35" ry="1.7"/><rect x="495.5" y="153.2" width="2.8" height="0.8"/><rect x="495.6" y="153.2" width="0.9" height="7.6"/><rect x="497.3" y="153.2" width="0.9" height="7.6"/></g>
<path d="M499.8,153.5 V155.9 M498.75,154.1 L500.85,155.3 M498.75,155.3 L500.85,154.1" stroke="#111" stroke-width="0.75" fill="none"/>
<path d="M503.5,153.5 V155.9 M502.45,154.1 L504.55,155.3 M502.45,155.3 L504.55,154.1" stroke="#111" stroke-width="0.75" fill="none"/>
<g fill="#111"><ellipse cx="744.95" cy="154.5" rx="1.35" ry="1.7"/><rect x="745.1" y="152.8" width="2.8" height="0.8"/><rect x="745.2" y="152.8" width="0.9" height="7.6"/><rect x="746.9" y="152.8" width="0.9" height="7.6"/></g>
<path d="M749.4,153.1 V155.5 M748.35,153.7 L750.45,154.9 M748.35,154.9 L750.45,153.7" stroke="#111" stroke-width="0.75" fill="none"/>
<path d="M753.1,153.1 V155.5 M752.05,153.7 L754.15,154.9 M752.05,154.9 L754.15,153.7" stroke="#111" stroke-width="0.75" fill="none"/>
<text x="324.7" y="35.2" font-size="9.15" fill="#0d0d0d">ECM collagen ratio = PHx + Gln / <tspan fill="#2323ff">PHx – Gln</tspan></text>
<line x1="323.6" y1="489" x2="323.6" y2="606.1999999999999" stroke="#111" stroke-width="1.6"/>
<line x1="323.6" y1="605.4" x2="515.2" y2="605.4" stroke="#111" stroke-width="1.6"/>
<line x1="318.6" y1="489" x2="323.6" y2="489" stroke="#111" stroke-width="1.5"/>
<text x="313" y="493.2" font-size="10" text-anchor="end" font-weight="normal" fill="#0d0d0d" >60</text>
<line x1="318.6" y1="522.3" x2="323.6" y2="522.3" stroke="#111" stroke-width="1.5"/>
<text x="313" y="526.5" font-size="10" text-anchor="end" font-weight="normal" fill="#0d0d0d" >40</text>
<line x1="318.6" y1="555.6" x2="323.6" y2="555.6" stroke="#111" stroke-width="1.5"/>
<text x="313" y="559.8" font-size="10" text-anchor="end" font-weight="normal" fill="#0d0d0d" >20</text>
<line x1="318.6" y1="588.9" x2="323.6" y2="588.9" stroke="#111" stroke-width="1.5"/>
<text x="313" y="593.1" font-size="10" text-anchor="end" font-weight="normal" fill="#0d0d0d" >0</text>
<line x1="340.3" y1="605.4" x2="340.3" y2="610.4" stroke="#111" stroke-width="1.5"/>
<text x="340.3" y="622.6" font-size="10" text-anchor="middle" font-weight="normal" fill="#0d0d0d" >sham</text>
<line x1="379.5" y1="605.4" x2="379.5" y2="610.4" stroke="#111" stroke-width="1.5"/>
<text x="379.5" y="622.6" font-size="10" text-anchor="middle" font-weight="normal" fill="#0d0d0d" >1</text>
<line x1="418.7" y1="605.4" x2="418.7" y2="610.4" stroke="#111" stroke-width="1.5"/>
<text x="418.7" y="622.6" font-size="10" text-anchor="middle" font-weight="normal" fill="#0d0d0d" >2</text>
<line x1="457.8" y1="605.4" x2="457.8" y2="610.4" stroke="#111" stroke-width="1.5"/>
<text x="457.8" y="622.6" font-size="10" text-anchor="middle" font-weight="normal" fill="#0d0d0d" >4</text>
<line x1="496.9" y1="605.4" x2="496.9" y2="610.4" stroke="#111" stroke-width="1.5"/>
<text x="496.9" y="622.6" font-size="10" text-anchor="middle" font-weight="normal" fill="#0d0d0d" >6</text>
<text x="415.5" y="639.6" font-size="11.7" text-anchor="middle" font-weight="normal" fill="#0d0d0d" >Elapsed days post PHx</text>
<text transform="translate(294.1,547.5) rotate(-90)" font-size="11.65" text-anchor="middle" fill="#0d0d0d">% of steatotic hepatocytes</text>
<text x="419" y="455.3" font-size="13.3" text-anchor="middle" font-weight="bold" fill="#000" >Steatosis</text>
<polygon points="327.8,588.5 332,585.2 334,585.2 338.2,588.5" fill="#8a8a8a" opacity="0.8"/>
<polygon points="342.3,588.5 346.5,585.2 348.5,585.2 352.7,588.5" fill="#8a8a8a" opacity="0.8"/>
<path d="M333.30,582.80 C333.47,582.92 334.08,583.13 334.30,583.50 C334.52,583.87 334.53,584.25 334.60,585.00 C334.67,585.75 334.77,587.23 334.70,588.00 C334.63,588.77 334.43,589.23 334.20,589.60 C333.97,589.97 333.45,590.10 333.30,590.20 L332.70,590.20 C332.55,590.10 332.03,589.97 331.80,589.60 C331.57,589.23 331.37,588.77 331.30,588.00 C331.23,587.23 331.33,585.75 331.40,585.00 C331.47,584.25 331.48,583.87 331.70,583.50 C331.92,583.13 332.53,582.92 332.70,582.80 Z" fill="#0000fa"/>
<path d="M347.80,578.60 C347.85,578.92 347.93,580.02 348.10,580.50 C348.27,580.98 348.63,581.18 348.80,581.50 C348.97,581.82 349.12,582.07 349.10,582.40 C349.08,582.73 348.85,583.07 348.70,583.50 C348.55,583.93 348.20,584.50 348.20,585.00 C348.20,585.50 348.55,585.92 348.70,586.50 C348.85,587.08 349.13,587.92 349.10,588.50 C349.07,589.08 348.72,589.58 348.50,590.00 C348.28,590.42 347.92,590.83 347.80,591.00 L347.20,591.00 C347.08,590.83 346.72,590.42 346.50,590.00 C346.28,589.58 345.93,589.08 345.90,588.50 C345.87,587.92 346.15,587.08 346.30,586.50 C346.45,585.92 346.80,585.50 346.80,585.00 C346.80,584.50 346.45,583.93 346.30,583.50 C346.15,583.07 345.92,582.73 345.90,582.40 C345.88,582.07 346.03,581.82 346.20,581.50 C346.37,581.18 346.73,580.98 346.90,580.50 C347.07,580.02 347.15,578.92 347.20,578.60 Z" fill="#000"/>
<path d="M372.55,568.30 C372.56,568.83 372.41,570.72 372.60,571.50 C372.79,572.28 373.27,572.35 373.70,573.00 C374.13,573.65 375.08,574.65 375.20,575.40 C375.32,576.15 374.70,576.82 374.40,577.50 C374.10,578.18 373.35,578.92 373.40,579.50 C373.45,580.08 374.23,580.42 374.70,581.00 C375.17,581.58 375.87,582.42 376.20,583.00 C376.53,583.58 376.83,583.92 376.70,584.50 C376.57,585.08 375.90,585.83 375.40,586.50 C374.90,587.17 374.15,587.97 373.70,588.50 C373.25,589.03 372.89,589.37 372.70,589.70 C372.51,590.03 372.57,589.87 372.55,590.50 C372.53,591.13 372.55,593.00 372.55,593.50 L371.85,593.50 C371.85,593.00 371.87,591.13 371.85,590.50 C371.82,589.87 371.89,590.03 371.70,589.70 C371.51,589.37 371.15,589.03 370.70,588.50 C370.25,587.97 369.50,587.17 369.00,586.50 C368.50,585.83 367.83,585.08 367.70,584.50 C367.57,583.92 367.87,583.58 368.20,583.00 C368.53,582.42 369.23,581.58 369.70,581.00 C370.17,580.42 370.95,580.08 371.00,579.50 C371.05,578.92 370.30,578.18 370.00,577.50 C369.70,576.82 369.08,576.15 369.20,575.40 C369.32,574.65 370.27,573.65 370.70,573.00 C371.13,572.35 371.61,572.28 371.80,571.50 C371.99,570.72 371.84,568.83 371.85,568.30 Z" fill="#0000fa"/>
<path d="M386.75,531.20 C386.76,532.00 386.76,534.87 386.80,536.00 C386.84,537.13 386.90,537.25 387.00,538.00 C387.10,538.75 387.28,539.67 387.40,540.50 C387.52,541.33 387.70,542.17 387.70,543.00 C387.70,543.83 387.52,544.67 387.40,545.50 C387.28,546.33 387.10,547.25 387.00,548.00 C386.90,548.75 386.83,548.00 386.80,550.00 C386.77,552.00 386.73,558.00 386.80,560.00 C386.87,562.00 386.88,561.33 387.20,562.00 C387.52,562.67 388.20,563.17 388.70,564.00 C389.20,564.83 389.85,566.00 390.20,567.00 C390.55,568.00 390.65,568.92 390.80,570.00 C390.95,571.08 391.08,572.33 391.10,573.50 C391.12,574.67 391.05,575.75 390.90,577.00 C390.75,578.25 390.45,579.83 390.20,581.00 C389.95,582.17 389.70,583.00 389.40,584.00 C389.10,585.00 388.73,586.15 388.40,587.00 C388.07,587.85 387.67,588.52 387.40,589.10 C387.13,589.68 386.91,589.47 386.80,590.50 C386.69,591.53 386.76,594.50 386.75,595.30 L386.05,595.30 C386.04,594.50 386.11,591.53 386.00,590.50 C385.89,589.47 385.67,589.68 385.40,589.10 C385.13,588.52 384.73,587.85 384.40,587.00 C384.07,586.15 383.70,585.00 383.40,584.00 C383.10,583.00 382.85,582.17 382.60,581.00 C382.35,579.83 382.05,578.25 381.90,577.00 C381.75,575.75 381.68,574.67 381.70,573.50 C381.72,572.33 381.85,571.08 382.00,570.00 C382.15,568.92 382.25,568.00 382.60,567.00 C382.95,566.00 383.60,564.83 384.10,564.00 C384.60,563.17 385.28,562.67 385.60,562.00 C385.92,561.33 385.93,562.00 386.00,560.00 C386.07,558.00 386.03,552.00 386.00,550.00 C385.97,548.00 385.90,548.75 385.80,548.00 C385.70,547.25 385.52,546.33 385.40,545.50 C385.28,544.67 385.10,543.83 385.10,543.00 C385.10,542.17 385.28,541.33 385.40,540.50 C385.52,539.67 385.70,538.75 385.80,538.00 C385.90,537.25 385.96,537.13 386.00,536.00 C386.04,534.87 386.04,532.00 386.05,531.20 Z" fill="#000"/>
<path d="M411.70,509.20 C411.73,511.17 411.77,518.62 411.90,521.00 C412.03,523.38 412.22,522.05 412.50,523.50 C412.78,524.95 413.30,527.63 413.60,529.70 C413.90,531.77 414.10,533.83 414.30,535.90 C414.50,537.97 414.63,540.03 414.80,542.10 C414.97,544.17 415.05,546.20 415.30,548.30 C415.55,550.40 416.13,552.93 416.30,554.70 C416.47,556.47 416.47,557.35 416.30,558.90 C416.13,560.45 415.67,562.38 415.30,564.00 C414.93,565.62 414.43,567.13 414.10,568.60 C413.77,570.07 413.27,571.23 413.30,572.80 C413.33,574.37 413.97,576.37 414.30,578.00 C414.63,579.63 415.10,581.05 415.30,582.60 C415.50,584.15 415.58,585.73 415.50,587.30 C415.42,588.87 415.12,590.45 414.80,592.00 C414.48,593.55 414.02,595.05 413.60,596.60 C413.18,598.15 412.63,599.90 412.30,601.30 C411.97,602.70 411.72,604.38 411.60,605.00 L411.00,605.00 C410.88,604.38 410.63,602.70 410.30,601.30 C409.97,599.90 409.42,598.15 409.00,596.60 C408.58,595.05 408.12,593.55 407.80,592.00 C407.48,590.45 407.18,588.87 407.10,587.30 C407.02,585.73 407.10,584.15 407.30,582.60 C407.50,581.05 407.97,579.63 408.30,578.00 C408.63,576.37 409.27,574.37 409.30,572.80 C409.33,571.23 408.83,570.07 408.50,568.60 C408.17,567.13 407.67,565.62 407.30,564.00 C406.93,562.38 406.47,560.45 406.30,558.90 C406.13,557.35 406.13,556.47 406.30,554.70 C406.47,552.93 407.05,550.40 407.30,548.30 C407.55,546.20 407.63,544.17 407.80,542.10 C407.97,540.03 408.10,537.97 408.30,535.90 C408.50,533.83 408.70,531.77 409.00,529.70 C409.30,527.63 409.82,524.95 410.10,523.50 C410.38,522.05 410.57,523.38 410.70,521.00 C410.83,518.62 410.87,511.17 410.90,509.20 Z" fill="#0000fa"/>
<path d="M426.60,489.30 C426.67,490.85 426.90,496.02 427.00,498.60 C427.10,501.18 426.95,502.93 427.20,504.80 C427.45,506.67 428.03,508.35 428.50,509.80 C428.97,511.25 429.63,512.25 430.00,513.50 C430.37,514.75 430.57,515.85 430.70,517.30 C430.83,518.75 430.87,520.13 430.80,522.20 C430.73,524.27 430.52,527.42 430.30,529.70 C430.08,531.98 429.85,534.03 429.50,535.90 C429.15,537.77 428.58,539.45 428.20,540.90 C427.82,542.35 427.43,543.15 427.20,544.60 C426.97,546.05 426.88,547.03 426.80,549.60 C426.72,552.17 426.72,555.60 426.70,560.00 C426.68,564.40 426.62,572.70 426.70,576.00 C426.78,579.30 427.00,578.23 427.20,579.80 C427.40,581.37 427.83,583.83 427.90,585.40 C427.97,586.97 427.78,587.95 427.60,589.20 C427.42,590.45 426.98,591.67 426.80,592.90 C426.62,594.13 426.57,594.58 426.50,596.60 C426.43,598.62 426.42,603.60 426.40,605.00 L425.60,605.00 C425.58,603.60 425.57,598.62 425.50,596.60 C425.43,594.58 425.38,594.13 425.20,592.90 C425.02,591.67 424.58,590.45 424.40,589.20 C424.22,587.95 424.03,586.97 424.10,585.40 C424.17,583.83 424.60,581.37 424.80,579.80 C425.00,578.23 425.22,579.30 425.30,576.00 C425.38,572.70 425.32,564.40 425.30,560.00 C425.28,555.60 425.28,552.17 425.20,549.60 C425.12,547.03 425.03,546.05 424.80,544.60 C424.57,543.15 424.18,542.35 423.80,540.90 C423.42,539.45 422.85,537.77 422.50,535.90 C422.15,534.03 421.92,531.98 421.70,529.70 C421.48,527.42 421.27,524.27 421.20,522.20 C421.13,520.13 421.17,518.75 421.30,517.30 C421.43,515.85 421.63,514.75 422.00,513.50 C422.37,512.25 423.03,511.25 423.50,509.80 C423.97,508.35 424.55,506.67 424.80,504.80 C425.05,502.93 424.90,501.18 425.00,498.60 C425.10,496.02 425.33,490.85 425.40,489.30 Z" fill="#000"/>
<path d="M450.90,581.70 C451.10,581.92 451.60,582.30 452.10,583.00 C452.60,583.70 453.57,585.02 453.90,585.90 C454.23,586.78 454.32,587.62 454.10,588.30 C453.88,588.98 453.13,589.50 452.60,590.00 C452.07,590.50 451.18,591.08 450.90,591.30 L450.30,591.30 C450.02,591.08 449.13,590.50 448.60,590.00 C448.07,589.50 447.32,588.98 447.10,588.30 C446.88,587.62 446.97,586.78 447.30,585.90 C447.63,585.02 448.60,583.70 449.10,583.00 C449.60,582.30 450.10,581.92 450.30,581.70 Z" fill="#0000fa"/>
<path d="M465.50,566.80 C465.55,567.08 465.63,567.88 465.80,568.50 C465.97,569.12 466.18,569.63 466.50,570.50 C466.82,571.37 467.25,572.78 467.70,573.70 C468.15,574.62 468.82,575.40 469.20,576.00 C469.58,576.60 470.13,576.88 470.00,577.30 C469.87,577.72 468.67,578.02 468.40,578.50 C468.13,578.98 468.23,579.62 468.40,580.20 C468.57,580.78 469.10,581.45 469.40,582.00 C469.70,582.55 470.23,582.97 470.20,583.50 C470.17,584.03 469.62,584.70 469.20,585.20 C468.78,585.70 468.23,586.05 467.70,586.50 C467.17,586.95 466.37,587.55 466.00,587.90 C465.63,588.25 465.58,588.48 465.50,588.60 L464.90,588.60 C464.82,588.48 464.77,588.25 464.40,587.90 C464.03,587.55 463.23,586.95 462.70,586.50 C462.17,586.05 461.62,585.70 461.20,585.20 C460.78,584.70 460.23,584.03 460.20,583.50 C460.17,582.97 460.70,582.55 461.00,582.00 C461.30,581.45 461.83,580.78 462.00,580.20 C462.17,579.62 462.27,578.98 462.00,578.50 C461.73,578.02 460.53,577.72 460.40,577.30 C460.27,576.88 460.82,576.60 461.20,576.00 C461.58,575.40 462.25,574.62 462.70,573.70 C463.15,572.78 463.58,571.37 463.90,570.50 C464.22,569.63 464.43,569.12 464.60,568.50 C464.77,567.88 464.85,567.08 464.90,566.80 Z" fill="#000"/>
<path d="M490.00,581.30 C490.20,581.58 490.75,582.28 491.20,583.00 C491.65,583.72 492.58,584.85 492.70,585.60 C492.82,586.35 492.07,586.77 491.90,587.50 C491.73,588.23 492.02,589.45 491.70,590.00 C491.38,590.55 490.28,590.67 490.00,590.80 L489.40,590.80 C489.12,590.67 488.02,590.55 487.70,590.00 C487.38,589.45 487.67,588.23 487.50,587.50 C487.33,586.77 486.58,586.35 486.70,585.60 C486.82,584.85 487.75,583.72 488.20,583.00 C488.65,582.28 489.20,581.58 489.40,581.30 Z" fill="#0000fa"/>
<path d="M504.70,578.10 C504.72,578.50 504.62,579.85 504.80,580.50 C504.98,581.15 505.80,581.53 505.80,582.00 C505.80,582.47 504.97,582.80 504.80,583.30 C504.63,583.80 504.38,584.48 504.80,585.00 C505.22,585.52 506.77,585.90 507.30,586.40 C507.83,586.90 508.00,587.52 508.00,588.00 C508.00,588.48 507.75,588.88 507.30,589.30 C506.85,589.72 505.73,590.08 505.30,590.50 C504.87,590.92 504.80,591.58 504.70,591.80 L503.90,591.80 C503.80,591.58 503.73,590.92 503.30,590.50 C502.87,590.08 501.75,589.72 501.30,589.30 C500.85,588.88 500.60,588.48 500.60,588.00 C500.60,587.52 500.77,586.90 501.30,586.40 C501.83,585.90 503.38,585.52 503.80,585.00 C504.22,584.48 503.97,583.80 503.80,583.30 C503.63,582.80 502.80,582.47 502.80,582.00 C502.80,581.53 503.62,581.15 503.80,580.50 C503.98,579.85 503.88,578.50 503.90,578.10 Z" fill="#000"/>
<line x1="324.6" y1="589" x2="511.6" y2="589" stroke="#000" stroke-width="1.6" stroke-dasharray="1.6 2.25"/>
<line x1="367.93" y1="583.8" x2="371.6" y2="583.8" stroke="#fff" stroke-width="1"/>
<line x1="372.8" y1="583.8" x2="376.47" y2="583.8" stroke="#fff" stroke-width="1"/>
<line x1="381.77" y1="574.8" x2="385.8" y2="574.8" stroke="#fff" stroke-width="1"/>
<line x1="387" y1="574.8" x2="391.03" y2="574.8" stroke="#fff" stroke-width="1"/>
<line x1="406.3" y1="558.9" x2="410.7" y2="558.9" stroke="#fff" stroke-width="1"/>
<line x1="411.9" y1="558.9" x2="416.3" y2="558.9" stroke="#fff" stroke-width="1"/>
<line x1="421.41" y1="525.3" x2="425.4" y2="525.3" stroke="#fff" stroke-width="1"/>
<line x1="426.6" y1="525.3" x2="430.59" y2="525.3" stroke="#fff" stroke-width="1"/>
<line x1="447.18" y1="587.4" x2="450" y2="587.4" stroke="#fff" stroke-width="1"/>
<line x1="451.2" y1="587.4" x2="454.03" y2="587.4" stroke="#fff" stroke-width="1"/>
<path d="M370.1,517.3000000000001 V519.9 M370.1,518.6 H387.7 M387.7,517.3000000000001 V519.9" stroke="#222" stroke-width="1.1" fill="none"/>
<path d="M407.2,478.5 V481.1 M407.2,479.8 H426.2 M426.2,478.5 V481.1" stroke="#222" stroke-width="1.1" fill="none"/>
<path d="M447,555.8000000000001 V558.4 M447,557.1 H465.9 M465.9,555.8000000000001 V558.4" stroke="#222" stroke-width="1.1" fill="none"/>
<text x="376.4" y="513.9" font-size="10" text-anchor="middle" font-weight="normal" fill="#0d0d0d" >p=0.049*</text>
<text x="422.2" y="476.5" font-size="10" text-anchor="middle" font-weight="normal" fill="#0d0d0d" >p&lt;0.001***</text>
<text x="455.4" y="552.8" font-size="10" text-anchor="middle" font-weight="normal" fill="#0d0d0d" >p=0.015*</text>
<g fill="#111"><ellipse cx="501.05" cy="597.1" rx="1.35" ry="1.7"/><rect x="501.2" y="595.4" width="2.8" height="0.8"/><rect x="501.3" y="595.4" width="0.9" height="7.6"/><rect x="503" y="595.4" width="0.9" height="7.6"/></g>
<path d="M505.5,595.7 V598.1 M504.45,596.3 L506.55,597.5 M504.45,597.5 L506.55,596.3" stroke="#111" stroke-width="0.75" fill="none"/>
<path d="M509.2,595.7 V598.1 M508.15,596.3 L510.25,597.5 M508.15,597.5 L510.25,596.3" stroke="#111" stroke-width="0.75" fill="none"/>
<rect x="481.4" y="504.6" width="12" height="11.3" fill="#000"/>
<rect x="481.4" y="521.1" width="12" height="11.7" fill="#0000fa"/>
<text x="497.5" y="514.8" font-size="10" text-anchor="start" font-weight="normal" fill="#0d0d0d" >PHx + Gln</text>
<text x="497.5" y="530.1" font-size="10" text-anchor="start" font-weight="normal" fill="#0d0d0d" >PHx – Gln</text>
<polygon points="11.5,82.5 20,81 35,81.5 50,82.5 56,86 62,90 64.7,100 63,110 61,117 62.5,124 63.6,133 61.5,140.4 56.3,147.7 50,151.4 41.7,151.9 32.3,148.8 24,143.6 18.8,140.4 10.4,134.2 8.2,128 10,120 11,110 11.5,95" fill="#e3efd9" stroke="#e3efd9" stroke-width="2" stroke-linejoin="round"/>
<polygon points="203.2,82.9 211.1,80.9 225,84 240.2,89.5 252.1,100.1 250.1,114.6 251.4,131.8 249.4,143.7 237.6,152.3 221.7,149 196.6,127.8 199.9,114.6 201.9,94.8" fill="#e3efd9" stroke="#e3efd9" stroke-width="2" stroke-linejoin="round"/>
<rect x="34.1" y="156.1" width="39.9" height="22.7" fill="#dde6f2"/>
<rect x="107.5" y="156.2" width="40.4" height="22.8" fill="#dde6f2"/>
<rect x="181.8" y="156.2" width="39.9" height="22.7" fill="#dde6f2"/>
<circle cx="13.9" cy="57.4" r="2.1" fill="#f59aa2"/>
<circle cx="30.1" cy="66.1" r="2.1" fill="#f59aa2"/>
<circle cx="44.4" cy="66.1" r="2.1" fill="#f59aa2"/>
<circle cx="57.8" cy="62.1" r="2.1" fill="#f59aa2"/>
<circle cx="73.8" cy="68" r="2.1" fill="#f59aa2"/>
<circle cx="66.3" cy="73.6" r="2.1" fill="#f59aa2"/>
<circle cx="53.1" cy="83.3" r="2.1" fill="#f59aa2"/>
<circle cx="81.7" cy="79.8" r="2.1" fill="#f59aa2"/>
<circle cx="95" cy="54.1" r="2.1" fill="#f59aa2"/>
<circle cx="104.8" cy="73.6" r="2.1" fill="#f59aa2"/>
<circle cx="13.1" cy="142.2" r="2.1" fill="#f59aa2"/>
<circle cx="25.5" cy="155.7" r="2.1" fill="#f59aa2"/>
<circle cx="60.6" cy="151.6" r="2.1" fill="#f59aa2"/>
<circle cx="71.9" cy="132.9" r="2.1" fill="#f59aa2"/>
<circle cx="77.9" cy="148.5" r="2.1" fill="#f59aa2"/>
<circle cx="82.1" cy="128" r="2.1" fill="#f59aa2"/>
<circle cx="89.8" cy="143.9" r="2.1" fill="#f59aa2"/>
<circle cx="126.6" cy="127.1" r="2.1" fill="#f59aa2"/>
<circle cx="116" cy="145.9" r="2.1" fill="#f59aa2"/>
<circle cx="150.5" cy="146.6" r="2.1" fill="#f59aa2"/>
<circle cx="143.5" cy="61.1" r="2.1" fill="#f59aa2"/>
<circle cx="185.1" cy="69.1" r="2.1" fill="#f59aa2"/>
<circle cx="222.9" cy="63.4" r="2.1" fill="#f59aa2"/>
<circle cx="184.4" cy="140.9" r="2.1" fill="#f59aa2"/>
<circle cx="28.95" cy="104" r="4.4" fill="#fff" stroke="#c00000" stroke-width="3.5"/>
<ellipse cx="46.35" cy="116.5" rx="8.4" ry="17.75" fill="#fff" stroke="#bf9000" stroke-width="3.1"/>
<ellipse cx="0" cy="0" rx="11" ry="5" fill="#fff" stroke="#2e75b6" stroke-width="3.4" transform="translate(26,122.1) rotate(50)"/>
<ellipse cx="0" cy="0" rx="9.8" ry="13.8" fill="#fff" stroke="#2e75b6" stroke-width="3.6" transform="translate(224.7,116.2) rotate(-25)"/>
<path d="M80.5,53 C96,60 102,90 102.3,120 C102.5,150 96,172 78,179" fill="none" stroke="#000" stroke-width="1.8"/>
<path d="M174,53.4 C160,56 153,90 153,120 C153,150 162,176 179.4,178.6" fill="none" stroke="#000" stroke-width="1.8"/>
<line x1="72" y1="116.4" x2="92.7" y2="116.4" stroke="#000" stroke-width="1.9"/>
<polygon points="68,116.4 75,112.8 75,120" fill="#000"/>
<polygon points="96.7,116.4 89.7,112.8 89.7,120" fill="#000"/>
<line x1="118.9" y1="116.4" x2="139.8" y2="116.4" stroke="#000" stroke-width="1.9"/>
<polygon points="114.9,116.4 121.9,112.8 121.9,120" fill="#000"/>
<polygon points="143.8,116.4 136.8,112.8 136.8,120" fill="#000"/>
<line x1="166.9" y1="116.5" x2="188.3" y2="116.5" stroke="#000" stroke-width="1.9"/>
<polygon points="162.9,116.5 169.9,112.9 169.9,120.1" fill="#000"/>
<polygon points="192.3,116.5 185.3,112.9 185.3,120.1" fill="#000"/>
<text x="31.45" y="77.9" font-size="8.2" text-anchor="middle" font-weight="bold" fill="#000" stroke="#000" stroke-width="0.25">Portal tract</text>
<text x="31.1" y="88.3" font-size="8.2" text-anchor="middle" font-weight="bold" fill="#000" stroke="#000" stroke-width="0.25">(PT)</text>
<text x="78.65" y="96" font-size="8.2" text-anchor="middle" font-weight="bold" fill="#000" stroke="#000" stroke-width="0.25">Periportal</text>
<text x="78.6" y="106.3" font-size="8.2" text-anchor="middle" font-weight="bold" fill="#000" stroke="#000" stroke-width="0.25">(PP)</text>
<text x="127.55" y="96" font-size="8.2" text-anchor="middle" font-weight="bold" fill="#000" stroke="#000" stroke-width="0.25">Transitional</text>
<text x="127.45" y="106.3" font-size="8.2" text-anchor="middle" font-weight="bold" fill="#000" stroke="#000" stroke-width="0.25">(TS)</text>
<text x="177.5" y="96.3" font-size="8.2" text-anchor="middle" font-weight="bold" fill="#000" stroke="#000" stroke-width="0.25">Pericentral</text>
<text x="177.5" y="106.3" font-size="8.2" text-anchor="middle" font-weight="bold" fill="#000" stroke="#000" stroke-width="0.25">(PC)</text>
<text x="222.3" y="77.5" font-size="8.2" text-anchor="middle" font-weight="bold" fill="#000" stroke="#000" stroke-width="0.25">Central vein</text>
<text x="222.2" y="87.7" font-size="8.2" text-anchor="middle" font-weight="bold" fill="#000" stroke="#000" stroke-width="0.25">(CV)</text>
<text x="52.8" y="170.8" font-size="8.2" text-anchor="middle" font-weight="bold" fill="#000" stroke="#000" stroke-width="0.25">Zone 1</text>
<text x="126.9" y="171" font-size="8.2" text-anchor="middle" font-weight="bold" fill="#000" stroke="#000" stroke-width="0.25">Zone 2</text>
<text x="202" y="171" font-size="8.2" text-anchor="middle" font-weight="bold" fill="#000" stroke="#000" stroke-width="0.25">Zone 3</text>
<text x="16.8" y="59.7" font-size="6.9" text-anchor="start" font-weight="normal" fill="#333" >Collagen fibrils</text>
</svg></body></html>
